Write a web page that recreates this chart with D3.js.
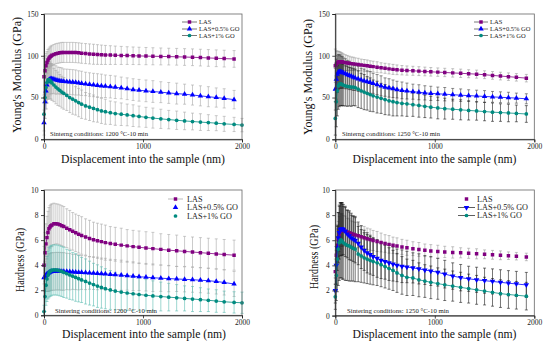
<!DOCTYPE html>
<html><head><meta charset="utf-8">
<script src="https://cdn.jsdelivr.net/npm/d3@7"></script>
<style>body{margin:0;background:#fff}svg{display:block}</style>
</head><body><svg id="c" width="550" height="350"></svg>
<script>
// ---------- DATA ----------
const displacement = [0,10,20,30,40,50,60,70,80,100,120,140,160,180,200,230,260,290,320,350,380,420,460,500,540,580,620,670,720,780,840,900,960,1030,1100,1180,1260,1340,1420,1500,1580,1660,1740,1820,1920,2000];
const seriesNames = ["LAS","LAS+0.5% GO","LAS+1% GO"];
const modulusTicks = [0,50,100,150];
const hardnessTicks = [0,2,4,6,8,10];
const dispTicks = [0,1000,2000];

// Young's modulus, 1200 °C
const ym1200_LAS = [75,82,88,92,95,97,98.5,99.5,100.5,101.5,102.5,103,103.5,104,104,104,104,104,103.8,103.5,103,102.6,102.2,101.8,101.5,101.2,101,100.8,100.6,100.4,100.2,100,99.8,99.6,99.4,99.2,99,98.8,98.5,98.2,97.8,97.4,97,96.6,96.2,null];
const ym1200_LAS_err = [22,18,15,13,12.5,12,12,12,12,12,12,12,12,12,12,12,12,12,12,12,12,12,12,12,11.8,11.6,11.4,11.2,11,10.8,10.6,10.5,10.4,10.3,10.2,10.1,10,10,10,10,10,10,10,10,10,null];
const ym1200_GO05 = [20,45,58,65,69,71,72,72.5,72.5,72,71,70.5,70,69.5,69.2,69,68.7,68.4,68,67.5,67,66.3,65.6,65,64.5,64,63.5,63,62.3,61.5,60.5,59.5,58.7,58,57.2,56.4,55.5,54.7,54,53,52,51,50,49,47.5,null];
const ym1200_GO05_err = [15,20,22,22,21,20,19,18,18,17,17,16,16,16,15,15,15,15,15,14.5,14.5,14,14,14,14,14,13.5,13.5,13.5,13,13,13,13,13,13,12.5,12.5,12.5,12,12,12,12,11.5,11.5,11,null];
const ym1200_GO1 = [30,50,62,68,71,71.5,70.5,69,67.5,65,62.5,60.5,58.5,56.5,55,52.5,50,48,46,44,42,40,38.5,37,35.5,34,33,31.8,30.8,30,29.2,28.3,27.3,26.3,25.4,24.5,23.6,22.8,22,21.3,20.6,20,19.3,18.5,17.8,17];
const ym1200_GO1_err = [20,25,25,24,23,22,22,21,21,20,20,20,19,19,19,18,18,18,17,17,17,16,16,16,15,15,15,14,14,13.5,13,13,12.5,12,12,11.5,11,11,10.5,10,10,9.5,9,9,8.5,8];

// Young's modulus, 1250 °C
const ym1250_LAS = [88,90,91.5,92.5,93,93,92.8,92.5,92.2,91.8,91.4,91,90.6,90.3,90,89.5,89,88.5,88,87.5,87,86.3,85.6,85,84.3,83.7,83.2,82.7,82.3,82,81.6,81.2,80.8,80.4,80,79.5,79,78.5,78,77.3,76.5,75.7,75,74.2,73.2,null];
const ym1250_LAS_err = [20,16,14,13,12,11.5,11,10.5,10,9.5,9,8.5,8,8,7.5,7.5,7,7,7,6.5,6.5,6.5,6,6,6,6,5.8,5.6,5.5,5.4,5.3,5.2,5.1,5,5,5,5,4.8,4.8,4.7,4.6,4.6,4.5,4.5,4.5,null];
const ym1250_GO05 = [60,72,78,80.5,81,81,80.5,80,79.5,78.5,77.5,76.5,75.5,74.5,73.5,72.3,71,70,69,68,67,65.5,64,62.5,61.5,60.5,59.5,58.6,57.8,57,56.3,55.6,55,54.5,54,53.4,52.8,52.3,51.8,51.3,50.8,50.3,49.8,49.3,48.5,null];
const ym1250_GO05_err = [25,24,22,21,20,20,19,19,18,18,17,17,16,16,15,15,14,14,13,13,12,12,12,11,11,10.5,10,10,9.5,9,9,8.5,8.5,8,8,7.5,7.5,7,7,7,6.5,6.5,6.5,6,6,null];
const ym1250_GO1 = [25,45,58,64,66,66.5,66,65.5,65,64,63.5,63,62.5,62.5,62,60,58,56.5,55,53.5,52,50.5,49,47.5,46,45,44,43,42.5,41.5,40.5,39.5,38.5,37.5,36.7,36,35.3,34.6,33.9,33.2,32.5,32,31.5,31,30.3,null];
const ym1250_GO1_err = [20,30,30,28,27,26,26,25,25,24,24,23,23,22,22,22,21,21,20,20,19,19,18,18,17,17,16,15,15,14,14,13.5,13,13,12.5,12,12,11.5,11,11,11,10.5,10.5,10,10,null];

// Hardness, 1200 °C
const h1200_LAS = [4.0,5.0,5.7,6.2,6.6,6.9,7.05,7.15,7.2,7.3,7.3,7.28,7.22,7.15,7.08,6.95,6.82,6.7,6.58,6.47,6.37,6.25,6.13,6.03,5.95,5.88,5.8,5.73,5.67,5.6,5.54,5.48,5.43,5.37,5.32,5.26,5.2,5.15,5.1,5.05,5.0,4.95,4.9,4.85,4.8,null];
const h1200_LAS_err = [1.5,1.6,1.6,1.7,1.7,1.7,1.7,1.7,1.7,1.65,1.6,1.6,1.6,1.6,1.6,1.55,1.55,1.5,1.5,1.5,1.5,1.45,1.45,1.4,1.4,1.4,1.4,1.35,1.35,1.35,1.3,1.3,1.3,1.3,1.3,1.25,1.25,1.25,1.2,1.2,1.2,1.2,1.2,1.2,1.2,null];
const h1200_GO05 = [3.0,3.1,3.2,3.3,3.35,3.4,3.45,3.48,3.5,3.5,3.52,3.52,3.52,3.5,3.5,3.5,3.48,3.47,3.45,3.43,3.42,3.4,3.38,3.36,3.34,3.32,3.3,3.27,3.24,3.2,3.16,3.12,3.08,3.04,3.0,2.96,2.93,2.9,2.87,2.84,2.8,2.76,2.7,2.62,2.5,null];
const h1200_GO05_err = [1.0,1.2,1.3,1.4,1.45,1.5,1.5,1.5,1.5,1.5,1.5,1.5,1.5,1.5,1.5,1.45,1.45,1.4,1.4,1.4,1.35,1.35,1.3,1.3,1.3,1.25,1.25,1.2,1.2,1.2,1.15,1.15,1.1,1.1,1.1,1.05,1.05,1.0,1.0,1.0,1.0,1.0,1.0,1.0,1.0,null];
const h1200_GO1 = [0.3,1.5,2.4,2.9,3.2,3.4,3.5,3.55,3.6,3.62,3.62,3.6,3.55,3.5,3.42,3.32,3.22,3.12,3.02,2.92,2.82,2.7,2.57,2.45,2.33,2.22,2.12,2.02,1.93,1.85,1.78,1.72,1.66,1.6,1.55,1.5,1.45,1.4,1.35,1.3,1.25,1.2,1.14,1.08,1.03,1.0];
const h1200_GO1_err = [0.5,1.2,1.6,1.8,1.9,2.0,2.0,2.0,2.0,2.0,2.0,2.0,2.0,2.0,2.0,1.95,1.95,1.9,1.9,1.85,1.8,1.8,1.75,1.7,1.7,1.65,1.6,1.55,1.5,1.45,1.4,1.35,1.3,1.25,1.2,1.15,1.1,1.05,1.0,1.0,0.95,0.9,0.9,0.85,0.85,0.85];

// Hardness, 1250 °C
const h1250_LAS = [3.5,4.8,5.6,6.1,6.5,6.7,6.8,6.8,6.78,6.72,6.66,6.6,6.54,6.48,6.42,6.35,6.27,6.2,6.12,6.05,5.98,5.9,5.82,5.74,5.67,5.6,5.54,5.47,5.4,5.33,5.27,5.2,5.15,5.1,5.07,5.03,5.0,4.96,4.92,4.88,4.84,4.8,4.77,4.73,4.67,null];
const h1250_LAS_err = [1.0,1.2,1.3,1.4,1.4,1.4,1.3,1.3,1.2,1.2,1.1,1.1,1.0,1.0,1.0,0.95,0.9,0.9,0.85,0.85,0.8,0.8,0.75,0.7,0.7,0.65,0.65,0.6,0.6,0.55,0.55,0.5,0.5,0.5,0.45,0.45,0.4,0.4,0.4,0.35,0.35,0.35,0.3,0.3,0.3,null];
const h1250_GO05 = [2.0,4.0,5.4,6.2,6.6,6.85,6.9,6.9,6.85,6.7,6.5,6.35,6.2,6.1,6.0,5.75,5.45,5.2,5.0,4.85,4.7,4.55,4.4,4.3,4.2,4.1,4.0,3.93,3.87,3.8,3.72,3.63,3.55,3.45,3.3,3.15,3.02,2.93,2.85,2.78,2.72,2.65,2.58,2.52,2.44,null];
const h1250_GO05_err = [1.0,1.5,1.8,2.0,2.1,2.1,2.1,2.1,2.0,2.0,1.9,1.9,1.8,1.8,1.8,1.7,1.7,1.6,1.6,1.55,1.5,1.5,1.45,1.4,1.4,1.35,1.3,1.3,1.25,1.2,1.2,1.15,1.15,1.1,1.1,1.05,1.05,1.0,1.0,1.0,1.0,1.0,1.0,1.0,1.0,null];
const h1250_GO1 = [1.5,3.2,4.5,5.3,5.8,6.0,6.0,5.9,5.8,5.7,5.6,5.55,5.45,5.35,5.3,4.9,4.75,4.6,4.5,4.4,4.3,4.2,4.05,3.9,3.75,3.6,3.4,3.2,3.05,3.0,2.85,2.75,2.65,2.55,2.45,2.35,2.25,2.15,2.05,1.95,1.85,1.75,1.68,1.62,1.55,null];
const h1250_GO1_err = [1.0,2.0,2.6,2.9,3.0,3.0,3.0,3.0,2.9,2.9,2.8,2.8,2.7,2.6,2.6,2.2,2.1,2.0,1.95,1.9,1.85,1.8,1.75,1.7,1.65,1.6,1.55,1.5,1.45,1.4,1.35,1.3,1.3,1.25,1.25,1.2,1.2,1.15,1.15,1.1,1.1,1.1,1.1,1.1,1.1,null];

// ---------- DRAW ----------
const svg = d3.select("#c");
const SERIF = "Liberation Serif, DejaVu Serif, serif";
const colors = ["#800080","#0000ff","#008b80"];

const panels = [
  {l:44, r:242, t:14, b:139.3, yMax:150, yTicks:modulusTicks, ytitle:"Young's Modulus (GPa)", ytx:17, yty:75, ytLen:116,
   series:[[ym1200_LAS,ym1200_LAS_err],[ym1200_GO05,ym1200_GO05_err],[ym1200_GO1,ym1200_GO1_err]],
   errColors:["#a8a8a8","#a8a8a8","#a8a8a8"], lines:[true,true,true], shapes:["sq","up","ci"],
   legend:{x1:182,x2:197,tx:199,ys:[22,29,35.5],fs:6.5,lineCol:["#555","#555","#555"],showLine:[true,true,true]},
   note:"Sinterng conditions: 1200 °C-10 min", nx:50, ny:136, nfs:6.6, nLen:98,
   xtx:143, xty:163},
  {l:335.3, r:534.3, t:14, b:139.3, yMax:150, yTicks:modulusTicks, ytitle:"Young's Modulus (GPa)", ytx:308, yty:77, ytLen:116,
   series:[[ym1250_LAS,ym1250_LAS_err],[ym1250_GO05,ym1250_GO05_err],[ym1250_GO1,ym1250_GO1_err]],
   errColors:["#9a9a9a","#444","#1a1a1a"], lines:[true,true,true], shapes:["sq","up","ci"],
   legend:{x1:474,x2:488,tx:490,ys:[22,29,35.5],fs:6.5,lineCol:["#555","#555","#555"],showLine:[true,true,true]},
   note:"Sinterng conditions: 1250 °C-10 min", nx:342, ny:136, nfs:6.6, nLen:98,
   xtx:434.5, xty:163},
  {l:44, r:242, t:190, b:315.3, yMax:10, yTicks:hardnessTicks, ytitle:"Hardness (GPa)", ytx:20, yty:260, ytLen:64,
   series:[[h1200_LAS,h1200_LAS_err],[h1200_GO05,h1200_GO05_err],[h1200_GO1,h1200_GO1_err]],
   errColors:["#a8a8a8","#a8a8a8","#5cbcb2"], lines:[true,true,true], shapes:["sq","up","ci"],
   legend:{x1:168,x2:183,tx:187,ys:[199,207.5,216],fs:8.2,lineCol:["#aaa","#aaa","#aaa"],showLine:[true,false,false]},
   note:"Sintering conditions: 1200 °C-10 min", nx:55, ny:312.5, nfs:6.8, nLen:102,
   xtx:144, xty:338},
  {l:335.3, r:534.3, t:190, b:315.6, yMax:10, yTicks:hardnessTicks, ytitle:"Hardness (GPa)", ytx:314, yty:257, ytLen:64,
   series:[[h1250_LAS,h1250_LAS_err],[h1250_GO05,h1250_GO05_err],[h1250_GO1,h1250_GO1_err]],
   errColors:["#9a9a9a","#1a1a1a","#1a1a1a"], lines:[false,true,true], shapes:["sq","dn","ci"],
   legend:{x1:458,x2:475,tx:477,ys:[199,207.5,215.5],fs:8.2,lineCol:["#333","#333","#333"],showLine:[false,true,true]},
   note:"Sintering conditions: 1250 °C-10 min", nx:347, ny:312.5, nfs:6.8, nLen:102,
   xtx:434.5, xty:338}
];

function symbolPath(shape){
  if(shape==="sq") return d3.symbol(d3.symbolSquare, 12)();
  if(shape==="up") return d3.symbol(d3.symbolTriangle, 13)();
  if(shape==="dn") return d3.symbol(d3.symbolTriangle, 13)();
  return d3.symbol(d3.symbolCircle, 11)();
}

panels.forEach((p, pi) => {
  const x = d3.scaleLinear().domain([0,2000]).range([p.l, p.r]);
  const y = d3.scaleLinear().domain([0,p.yMax]).range([p.b, p.t]);
  const g = svg.append("g");
  const clipId = "clip"+pi;
  svg.append("clipPath").attr("id",clipId).append("rect")
    .attr("x",p.l-3).attr("y",p.t).attr("width",p.r-p.l+6).attr("height",p.b-p.t+1);
  const plot = g.append("g").attr("clip-path",`url(#${clipId})`);

  // frame
  g.append("rect").attr("x",p.l).attr("y",p.t).attr("width",p.r-p.l).attr("height",p.b-p.t)
    .attr("fill","none").attr("stroke","#666").attr("stroke-width",0.8);

  // error bars
  p.series.forEach((s, si) => {
    const [vals, errs] = s;
    const pts = displacement.map((d,i)=>({x:d, v:vals[i], e:errs[i]})).filter(d=>d.v!=null && d.e!=null);
    const eg = plot.append("g").attr("stroke",p.errColors[si]).attr("stroke-width",0.6).attr("fill","none");
    pts.forEach(d => {
      const xx = x(d.x), y1 = y(d.v + d.e), y2 = y(Math.max(d.v - d.e, 0));
      eg.append("line").attr("x1",xx).attr("x2",xx).attr("y1",y1).attr("y2",y2);
      eg.append("line").attr("x1",xx-1.5).attr("x2",xx+1.5).attr("y1",y1).attr("y2",y1);
      eg.append("line").attr("x1",xx-1.5).attr("x2",xx+1.5).attr("y1",y2).attr("y2",y2);
    });
  });

  // lines and markers
  p.series.forEach((s, si) => {
    const vals = s[0];
    const pts = displacement.map((d,i)=>({x:d, v:vals[i]})).filter(d=>d.v!=null);
    if (p.lines[si]) {
      plot.append("path").datum(pts)
        .attr("d", d3.line().x(d=>x(d.x)).y(d=>y(d.v)))
        .attr("fill","none").attr("stroke",colors[si]).attr("stroke-width",0.8);
    }
    const sp = symbolPath(p.shapes[si]);
    plot.append("g").selectAll("path").data(pts).join("path")
      .attr("d", sp)
      .attr("transform", d=>`translate(${x(d.x)},${y(d.v)})` + (p.shapes[si]==="dn"?" rotate(180)":""))
      .attr("fill", colors[si]);
  });

  // axes
  const ax = g.append("g").attr("transform",`translate(0,${p.b})`)
    .call(d3.axisBottom(x).tickValues(dispTicks).tickSize(3).tickPadding(1.5).tickFormat(d3.format("d")));
  const ay = g.append("g").attr("transform",`translate(${p.l},0)`)
    .call(d3.axisLeft(y).tickValues(p.yTicks).tickSize(3).tickPadding(2.5).tickFormat(d3.format("d")));
  [ax, ay].forEach(a => {
    a.select(".domain").attr("stroke","#222").attr("stroke-width",0.9);
    a.selectAll(".tick line").attr("stroke","#222").attr("stroke-width",0.8);
    a.selectAll("text").attr("font-family",SERIF).attr("font-size",7.5).attr("fill","#222");
  });

  // titles
  g.append("text").attr("x",p.xtx).attr("y",p.xty).attr("text-anchor","middle")
    .attr("font-family",SERIF).attr("font-size",12.5).attr("fill","#111")
    .attr("textLength",164).attr("lengthAdjust","spacingAndGlyphs")
    .text("Displacement into the sample (nm)");
  g.append("text").attr("transform",`translate(${p.ytx},${p.yty}) rotate(-90)`)
    .attr("text-anchor","middle").attr("dy","0.35em")
    .attr("font-family",SERIF).attr("font-size",12.5).attr("fill","#111")
    .attr("textLength",p.ytLen).attr("lengthAdjust","spacingAndGlyphs")
    .text(p.ytitle);

  // note
  g.append("text").attr("x",p.nx).attr("y",p.ny)
    .attr("font-family",SERIF).attr("font-size",p.nfs).attr("fill","#222")
    .attr("textLength",p.nLen).attr("lengthAdjust","spacingAndGlyphs")
    .text(p.note);

  // legend
  const L = p.legend;
  seriesNames.forEach((name, si) => {
    const yy = L.ys[si];
    if (L.showLine[si]) {
      g.append("line").attr("x1",L.x1).attr("x2",L.x2).attr("y1",yy).attr("y2",yy)
        .attr("stroke",L.lineCol[si]).attr("stroke-width",0.8);
    }
    g.append("path").attr("d", symbolPath(p.shapes[si]))
      .attr("transform",`translate(${(L.x1+L.x2)/2},${yy})` + (p.shapes[si]==="dn"?" rotate(180)":""))
      .attr("fill",colors[si]);
    g.append("text").attr("x",L.tx).attr("y",yy).attr("dy","0.35em")
      .attr("font-family",SERIF).attr("font-size",L.fs).attr("fill","#222").text(name);
  });
});
</script></body></html>
